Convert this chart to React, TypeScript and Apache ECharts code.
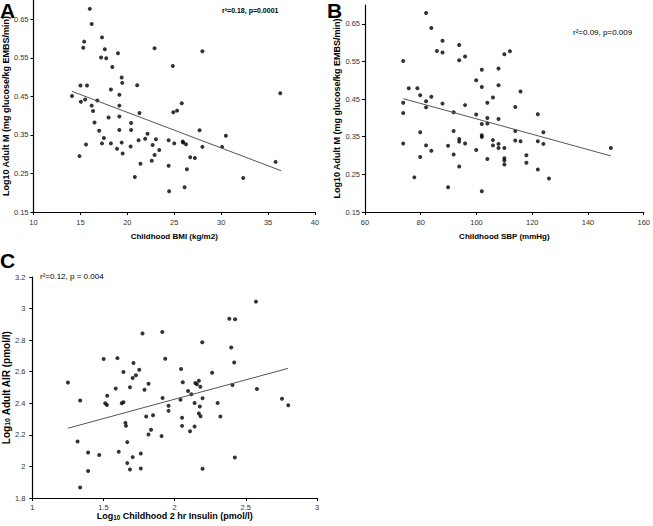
import React, { useEffect, useRef } from "react";
import * as echarts from "echarts";

// Panel A: Childhood BMI vs Log10 Adult M
const bmiA = [14.1, 15.0, 15.05, 14.9, 15.3, 15.4, 15.5, 15.6, 15.7, 16.0, 16.2, 16.2, 16.35, 16.5, 16.8, 17.0, 17.3, 17.2, 17.3, 17.5, 17.6, 17.75, 18.0, 18.25, 18.25, 18.4, 18.9, 19.0, 19.15, 19.15, 19.15, 19.15, 19.4, 19.45, 19.4, 19.5, 20.35, 20.4, 20.4, 20.8, 21.05, 21.2, 21.3, 21.4, 21.9, 22.15, 22.6, 22.7, 22.9, 22.9, 23.05, 23.4, 24.4, 24.4, 24.45, 24.85, 24.9, 25.0, 25.3, 25.8, 25.9, 25.95, 26.1, 26.25, 26.35, 26.7, 27.2, 27.7, 28.0, 28.0, 30.1, 30.5, 32.35, 35.8, 36.3];
const mA = [0.451, 0.478, 0.436, 0.295, 0.576, 0.592, 0.442, 0.325, 0.478, 0.677, 0.638, 0.426, 0.412, 0.382, 0.439, 0.361, 0.603, 0.551, 0.328, 0.342, 0.572, 0.549, 0.395, 0.468, 0.328, 0.526, 0.314, 0.562, 0.454, 0.426, 0.398, 0.363, 0.499, 0.485, 0.330, 0.302, 0.320, 0.381, 0.363, 0.241, 0.479, 0.336, 0.407, 0.275, 0.340, 0.353, 0.283, 0.324, 0.298, 0.575, 0.339, 0.311, 0.336, 0.270, 0.204, 0.529, 0.409, 0.328, 0.413, 0.432, 0.333, 0.330, 0.214, 0.326, 0.261, 0.292, 0.290, 0.362, 0.319, 0.567, 0.319, 0.348, 0.238, 0.280, 0.458];
const fitA = [[14.1, 0.463], [36.4, 0.257]];

// Panel B: Childhood SBP vs Log10 Adult M
const sbpB = [73.7, 73.7, 73.7, 73.7, 75.7, 77.7, 78.8, 79.8, 79.8, 79.8, 81.9, 81.9, 81.9, 81.9, 83.8, 83.8, 83.8, 85.8, 87.8, 87.8, 87.8, 89.8, 89.8, 91.8, 91.8, 91.8, 93.8, 93.8, 93.8, 93.8, 93.8, 95.9, 95.9, 95.9, 99.9, 99.9, 99.9, 101.9, 101.9, 101.9, 101.9, 101.9, 101.9, 103.9, 103.9, 103.9, 103.9, 105.9, 105.9, 105.9, 107.9, 107.9, 107.9, 107.9, 107.9, 110.0, 110.0, 110.0, 110.0, 110.0, 112.0, 113.9, 113.9, 113.9, 115.8, 115.8, 117.9, 117.9, 122.0, 122.0, 122.0, 124.0, 124.0, 126.0, 148.2];
const mB = [0.551, 0.440, 0.413, 0.332, 0.479, 0.242, 0.479, 0.460, 0.362, 0.296, 0.679, 0.444, 0.428, 0.327, 0.639, 0.456, 0.313, 0.578, 0.605, 0.574, 0.438, 0.326, 0.216, 0.415, 0.365, 0.303, 0.594, 0.553, 0.344, 0.337, 0.271, 0.563, 0.434, 0.332, 0.500, 0.409, 0.315, 0.528, 0.482, 0.384, 0.354, 0.349, 0.205, 0.440, 0.400, 0.385, 0.291, 0.454, 0.341, 0.327, 0.531, 0.487, 0.397, 0.331, 0.320, 0.569, 0.320, 0.293, 0.287, 0.276, 0.577, 0.429, 0.365, 0.340, 0.470, 0.338, 0.301, 0.281, 0.410, 0.338, 0.263, 0.362, 0.331, 0.239, 0.320];
const fitB = [[73.8, 0.451], [148.2, 0.299]];

// Panel C: Log10 Childhood 2 hr insulin vs Log10 Adult AIR
const insulinC = [1.250, 1.336, 1.318, 1.392, 1.470, 1.392, 1.336, 1.501, 1.598, 1.526, 1.512, 1.524, 1.586, 1.640, 1.628, 1.640, 1.654, 1.658, 1.667, 1.607, 1.667, 1.686, 1.705, 1.762, 1.762, 1.686, 1.705, 1.711, 1.728, 1.751, 1.774, 1.788, 1.816, 1.800, 1.848, 1.834, 1.816, 1.913, 1.934, 1.915, 1.957, 1.957, 1.908, 2.045, 2.057, 2.145, 2.156, 2.170, 2.180, 2.094, 2.117, 2.041, 2.140, 2.196, 2.177, 2.170, 2.182, 2.052, 2.052, 2.140, 2.108, 2.194, 2.263, 2.302, 2.321, 2.384, 2.425, 2.397, 2.418, 2.406, 2.423, 2.196, 2.571, 2.578, 2.754, 2.798];
const airC = [2.531, 2.417, 2.158, 2.088, 2.072, 1.971, 1.867, 2.680, 2.686, 2.448, 2.400, 2.389, 2.493, 2.598, 2.400, 2.406, 2.276, 2.257, 2.154, 2.093, 2.021, 1.981, 2.059, 2.082, 1.987, 2.501, 2.560, 2.655, 2.577, 2.613, 2.842, 2.486, 2.524, 2.316, 2.324, 2.232, 2.202, 2.851, 2.682, 2.434, 2.385, 2.352, 2.192, 2.617, 2.533, 2.528, 2.520, 2.543, 2.505, 2.478, 2.457, 2.423, 2.402, 2.432, 2.379, 2.335, 2.318, 2.309, 2.257, 2.253, 2.223, 2.787, 2.594, 2.402, 2.316, 2.935, 2.933, 2.754, 2.659, 2.516, 2.057, 1.985, 3.044, 2.491, 2.429, 2.387];
const fitC = [[1.25, 2.242], [2.796, 2.621]];

const mTicks = [0.15, 0.25, 0.35, 0.45, 0.55, 0.65];

const FONT = "'Liberation Sans', Arial, sans-serif";

const zip = (xs: number[], ys: number[]) => xs.map((x, i) => [x, ys[i]]);

export default function App() {
  const ref = useRef<HTMLDivElement>(null);
  useEffect(() => {
    const chart = echarts.init(ref.current!, null, { renderer: "svg" });
    const axisLine = { show: true, onZero: false, lineStyle: { color: "#000", width: 1.2 } };
    const axisTick = { show: true, inside: false, length: 3, lineStyle: { color: "#000", width: 1 } };
    const lbl = { color: "#333", fontSize: 7.5, fontFamily: FONT };
    const titleBold = (size: number) => ({ color: "#000", fontSize: size, fontWeight: "bold" as const, fontFamily: FONT });
    const subRich = (size: number) => ({
      n: { fontSize: size, fontWeight: "bold" as const, fontFamily: FONT, color: "#000" },
      s: { fontSize: size * 0.7, fontWeight: "bold" as const, fontFamily: FONT, color: "#000", verticalAlign: "bottom" as const, padding: [0, 0, 0, 0] },
    });

    const scatter = (idx: number, data: number[][]) => ({
      type: "scatter",
      xAxisIndex: idx,
      yAxisIndex: idx,
      data,
      symbol: "circle",
      symbolSize: 4,
      itemStyle: { color: "#000" },
      silent: true,
    });
    const fit = (idx: number, data: number[][]) => ({
      type: "line",
      xAxisIndex: idx,
      yAxisIndex: idx,
      data,
      showSymbol: false,
      symbol: "none",
      lineStyle: { color: "#555", width: 1 },
      silent: true,
    });

    const yM = (gridIndex: number, nameGap: number) => ({
      type: "value",
      gridIndex,
      min: 0.15,
      max: 0.7,
      axisLine,
      axisTick: { ...axisTick, customValues: mTicks },
      splitLine: { show: false },
      axisLabel: { ...lbl, margin: 5, customValues: mTicks, formatter: (v: number) => v.toFixed(2) },
      name: "Log10 Adult M (mg glucose/kg EMBS/min)",
      nameLocation: "middle",
      nameGap,
      nameTextStyle: titleBold(9),
    });

    const option: any = {
      animation: false,
      backgroundColor: "#fff",
      grid: [
        { left: 30, top: 0, width: 285, height: 212 },
        { left: 365, top: 5, width: 282, height: 207 },
        { left: 29, top: 277, width: 288, height: 221 },
      ],
      xAxis: [
        {
          type: "value", gridIndex: 0, min: 10, max: 40, interval: 5,
          axisLine, axisTick, splitLine: { show: false },
          axisLabel: { ...lbl, margin: 6 },
          name: "Childhood BMI (kg/m2)", nameLocation: "middle", nameGap: 20,
          nameTextStyle: titleBold(8),
        },
        {
          type: "value", gridIndex: 1, min: 60, max: 160, interval: 20,
          axisLine, axisTick, splitLine: { show: false },
          axisLabel: { ...lbl, margin: 6 },
          name: "Childhood SBP (mmHg)", nameLocation: "middle", nameGap: 20,
          nameTextStyle: titleBold(8),
        },
        {
          type: "value", gridIndex: 2, min: 1, max: 3, interval: 0.5,
          axisLine, axisTick, splitLine: { show: false },
          axisLabel: { ...lbl, margin: 5 },
          name: "{n|Log}{s|10}{n| Childhood 2 hr Insulin (pmol/l)}", nameLocation: "middle", nameGap: 13,
          nameTextStyle: { ...titleBold(9), rich: subRich(9) },
        },
      ],
      yAxis: [
        yM(0, 18),
        yM(1, 24),
        {
          type: "value", gridIndex: 2, min: 1.8, max: 3.2, interval: 0.2,
          axisLine, axisTick, splitLine: { show: false },
          axisLabel: { ...lbl, margin: 7 },
          name: "{n|Log}{s|10}{n| Adult AIR (pmol/l)}", nameLocation: "middle", nameGap: 19,
          nameTextStyle: { ...titleBold(10), rich: subRich(10) },
        },
      ],
      series: [
        scatter(0, zip(bmiA, mA)),
        fit(0, fitA),
        scatter(1, zip(sbpB, mB)),
        fit(1, fitB),
        scatter(2, zip(insulinC, airC)),
        fit(2, fitC),
      ],
      graphic: [
        { type: "text", left: 0, top: 0, style: { text: "A", font: `bold 21px ${FONT}`, fill: "#000" } },
        { type: "text", left: 327, top: 0, style: { text: "B", font: `bold 21px ${FONT}`, fill: "#000" } },
        { type: "text", left: 0, top: 250, style: { text: "C", font: `bold 21px ${FONT}`, fill: "#000" } },
        { type: "text", left: 222, top: 7, style: { text: "r²=0.18, p=0.0001", font: `bold 7px ${FONT}`, fill: "#000" } },
        { type: "text", left: 573, top: 28, style: { text: "r²=0.09, p=0.009", font: `8px ${FONT}`, fill: "#000" } },
        { type: "text", left: 40, top: 272, style: { text: "r²=0.12, p = 0.004", font: `8px ${FONT}`, fill: "#000" } },
      ],
    };
    chart.setOption(option);
    return () => chart.dispose();
  }, []);
  return (
    <div
      ref={ref}
      style={{ position: "absolute", left: 0, top: 0, width: 653, height: 526, background: "#fff" }}
    />
  );
}
